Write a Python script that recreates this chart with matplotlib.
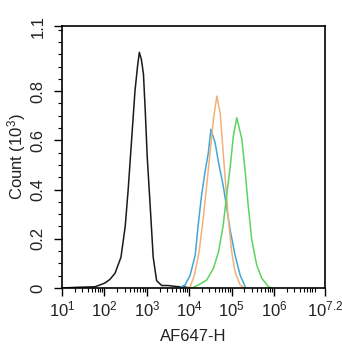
import matplotlib
matplotlib.use("Agg")
import matplotlib.pyplot as plt
import numpy as np
from matplotlib.ticker import FixedLocator, LogLocator, NullFormatter

plt.rcParams['font.family'] = ['Liberation Sans', 'DejaVu Sans']
plt.rcParams['mathtext.fontset'] = 'custom'
plt.rcParams['mathtext.rm'] = 'Liberation Sans'
plt.rcParams['mathtext.it'] = 'Liberation Sans'

# histogram outlines: log10 of AF647-H and count (x 10^3)
black_log = [1.0, 1.38, 1.78, 2.01, 2.13, 2.25, 2.39, 2.49, 2.56, 2.64, 2.72, 2.78, 2.823,
             2.87, 2.92, 2.96, 3.01, 3.08, 3.15, 3.23, 3.35, 3.50, 3.70, 3.90, 4.0]
black_cnt = [0.0, 0.003, 0.005, 0.02, 0.035, 0.06, 0.125, 0.25, 0.40, 0.60, 0.80, 0.90, 0.958,
             0.93, 0.87, 0.73, 0.53, 0.33, 0.125, 0.03, 0.01, 0.01, 0.006, 0.004, 0.0]

orange_log = [3.90, 4.02, 4.12, 4.23, 4.33, 4.41, 4.49, 4.57, 4.65, 4.73, 4.80,
              4.86, 4.92, 5.00, 5.08, 5.20, 5.30]
orange_cnt = [0.0, 0.004, 0.052, 0.145, 0.283, 0.416, 0.55, 0.687, 0.78, 0.71, 0.55,
              0.416, 0.283, 0.147, 0.066, 0.012, 0.0]

blue_log = [3.75, 3.90, 4.02, 4.14, 4.21, 4.29, 4.37, 4.45, 4.51, 4.61, 4.69,
            4.80, 4.88, 4.96, 5.08, 5.20, 5.32]
blue_cnt = [0.0, 0.012, 0.052, 0.133, 0.255, 0.376, 0.47, 0.55, 0.645, 0.59, 0.51,
            0.416, 0.33, 0.24, 0.133, 0.052, 0.005]

green_log = [4.06, 4.21, 4.41, 4.57, 4.69, 4.80, 4.88, 4.96, 5.04, 5.12, 5.24,
             5.32, 5.39, 5.47, 5.59, 5.71, 5.87, 5.95]
green_cnt = [0.0, 0.012, 0.032, 0.08, 0.147, 0.255, 0.376, 0.484, 0.618, 0.692, 0.605,
             0.47, 0.335, 0.20, 0.093, 0.039, 0.005, 0.0]

x_ticks = [1, 2, 3, 4, 5, 6, 7.2]
x_labels = ['1', '2', '3', '4', '5', '6', '7.2']
y_ticks = [0, 0.2, 0.4, 0.6, 0.8, 1.065]
y_labels = ['0', '0.2', '0.4', '0.6', '0.8', '1.1']

fig = plt.figure(figsize=(3.42, 3.50), dpi=100)
ax = fig.add_axes([62 / 342, 1 - 288 / 350, 263 / 342, 262 / 350])

series = [
    (black_log, black_cnt, '#1a1a1a'),
    (blue_log, blue_cnt, '#40a8d8'),
    (orange_log, orange_cnt, '#f2b07a'),
    (green_log, green_cnt, '#5cd45c'),
]
for lg, cnt, col in series:
    ax.plot(10 ** np.array(lg), cnt, color=col, lw=1.1)

ax.set_xscale('log')
ax.set_xlim(10 ** 1, 10 ** 7.2)
ax.set_ylim(0, 1.065)

ax.xaxis.set_major_locator(FixedLocator([10 ** t for t in x_ticks]))
ax.set_xticklabels([r'$\mathregular{10^{%s}}$' % s for s in x_labels])
ax.xaxis.set_minor_locator(LogLocator(base=10, subs=np.arange(2, 10), numticks=20))
ax.xaxis.set_minor_formatter(NullFormatter())

ax.yaxis.set_major_locator(FixedLocator(y_ticks))
ax.set_yticklabels(y_labels, rotation=90, va='center')
ax.yaxis.set_minor_locator(FixedLocator(np.arange(0.05, 1.06, 0.05)))

ax.tick_params(which='major', direction='out', length=6, width=1, labelsize=12,
               labelcolor='#222222')
ax.tick_params(axis='y', which='major', pad=6)
ax.tick_params(axis='x', which='major', pad=2)
ax.tick_params(which='minor', direction='out', length=3, width=0.8)

for sp in ax.spines.values():
    sp.set_linewidth(1.2)

ax.set_xlabel('AF647-H', fontsize=12, color='#222222')
ax.xaxis.set_label_coords(0.5, -0.155)
ax.set_ylabel(r'Count (10$^\mathregular{3}$)', fontsize=12, va='center', color='#222222')
ax.yaxis.set_label_coords(-0.171, 0.5)

fig.savefig('out.png', dpi=100)
